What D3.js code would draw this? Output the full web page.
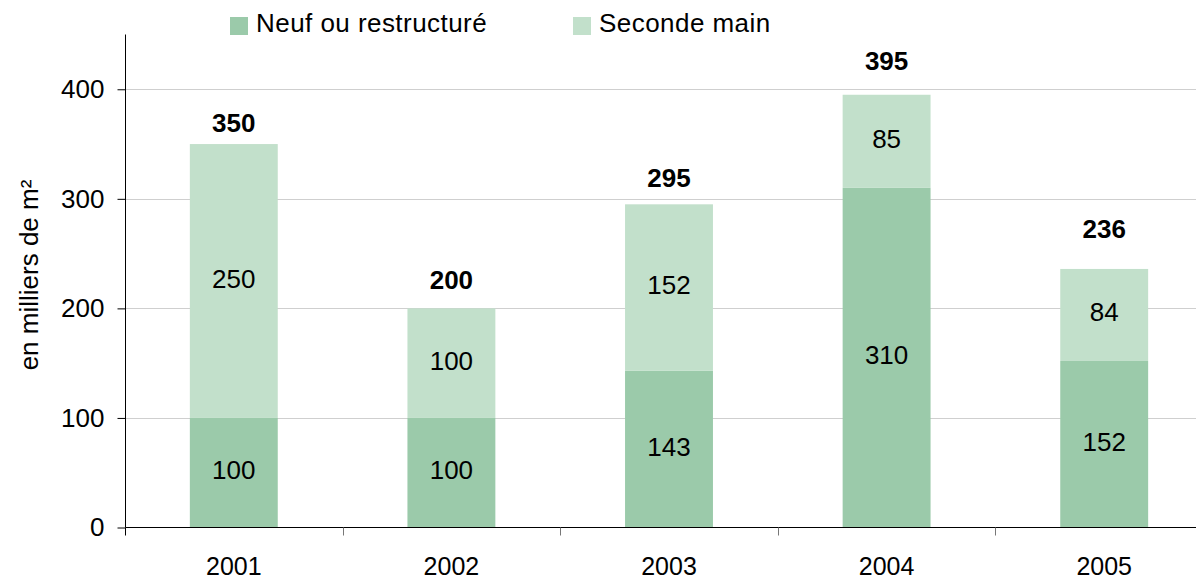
<!DOCTYPE html>
<html>
<head>
<meta charset="utf-8">
<script src="https://cdn.jsdelivr.net/npm/d3@7"></script>
<style>
  html, body { margin: 0; padding: 0; background: #fff; }
  svg { display: block; font-family: "Liberation Sans", Arial, sans-serif; }
</style>
</head>
<body>
<svg id="chart" width="1196" height="579"></svg>
<script>
const years = ["2001", "2002", "2003", "2004", "2005"];
const neuf = [100, 100, 143, 310, 152];
const seconde = [250, 100, 152, 85, 84];
const totals = [350, 200, 295, 395, 236];
const yTicks = [0, 100, 200, 300, 400];
const seriesNames = ["Neuf ou restructuré", "Seconde main"];
const colors = ["#9bcaaa", "#c2e0cb"];

const svg = d3.select("#chart");
const W = 1196;
const x0 = 125.5, yBottom = 527.5, yTop = 34.5;
// layout: pixel gap between bar top and the total label baseline (manually placed in the original)
const totalLabelGap = [12, 19, 17, 25, 31];

const x = d3.scaleBand().domain(years).range([125, 1213]).paddingInner(0.596).paddingOuter(0.298);
const y = d3.scaleLinear().domain([0, 450]).range([yBottom, yTop]);

// gridlines
svg.append("g").selectAll("line").data(yTicks.filter(d => d > 0)).join("line")
  .attr("x1", x0).attr("x2", W)
  .attr("y1", d => Math.round(y(d)) + 0.5).attr("y2", d => Math.round(y(d)) + 0.5)
  .attr("stroke", "#cfcfcf").attr("stroke-width", 1.2);

// stacked data
const rows = years.map((yr, i) => ({ year: yr, neuf: neuf[i], seconde: seconde[i], total: totals[i], idx: i }));
const stack = d3.stack().keys(["neuf", "seconde"])(rows);

const layers = svg.append("g").selectAll("g").data(stack).join("g")
  .attr("fill", (d, i) => colors[i]);
layers.selectAll("rect").data(d => d).join("rect")
  .attr("x", d => x(d.data.year))
  .attr("width", x.bandwidth())
  .attr("y", d => y(d[1]))
  .attr("height", d => y(d[0]) - y(d[1]));

// inner labels
const labG = svg.append("g").attr("font-size", 26).attr("fill", "#000").attr("text-anchor", "middle");
stack.forEach(layer => {
  labG.selectAll(null).data(layer).join("text")
    .attr("x", d => x(d.data.year) + x.bandwidth() / 2)
    .attr("y", d => (y(d[0]) + y(d[1])) / 2)
    .attr("dy", "0.25em")
    .text(d => d[1] - d[0]);
});

// totals
svg.append("g").selectAll("text").data(rows).join("text")
  .attr("x", d => x(d.year) + x.bandwidth() / 2)
  .attr("y", d => y(d.total) - totalLabelGap[d.idx])
  .attr("text-anchor", "middle")
  .attr("font-size", 26).attr("font-weight", "bold")
  .text(d => d.total);

// y axis
const yAxis = d3.axisLeft(y).tickValues(yTicks).tickSize(8).tickPadding(13);
const gy = svg.append("g").attr("transform", `translate(${x0},0)`).call(yAxis);
gy.select(".domain").remove();
gy.selectAll(".tick line").attr("stroke", "#000");
gy.selectAll(".tick text").attr("font-size", 26).attr("font-family", "Liberation Sans, Arial, sans-serif").attr("fill", "#000").attr("dy", "0.32em");
svg.append("line").attr("x1", x0).attr("x2", x0).attr("y1", yTop).attr("y2", yBottom).attr("stroke", "#000");

// x axis
svg.append("line").attr("x1", x0).attr("x2", W).attr("y1", yBottom).attr("y2", yBottom).attr("stroke", "#000");
const bounds = years.map(yr => x(yr) - x.step() * x.paddingInner() / 2).concat([x(years[years.length - 1]) + x.bandwidth() + x.step() * x.paddingInner() / 2]);
svg.append("g").selectAll("line").data(bounds.filter(b => b < W)).join("line")
  .attr("x1", d => Math.round(d) + 0.5).attr("x2", d => Math.round(d) + 0.5)
  .attr("y1", yBottom).attr("y2", yBottom + 8)
  .attr("stroke", (d, i) => i === 0 ? "#000" : "#777");
svg.append("g").selectAll("text").data(years).join("text")
  .attr("x", d => x(d) + x.bandwidth() / 2)
  .attr("y", 575)
  .attr("text-anchor", "middle").attr("font-size", 25)
  .text(d => d);

// y title
svg.append("text")
  .attr("transform", "translate(38,275) rotate(-90)")
  .attr("text-anchor", "middle").attr("font-size", 26)
  .text("en milliers de m²");

// legend
const legX = [230, 573];
const leg = svg.append("g").selectAll("g").data(seriesNames).join("g")
  .attr("transform", (d, i) => `translate(${legX[i]},0)`);
leg.append("rect").attr("x", 0).attr("y", 17).attr("width", 18).attr("height", 18).attr("fill", (d, i) => colors[i]);
leg.append("text").attr("x", 26).attr("y", 32).attr("font-size", 26).attr("letter-spacing", 0.45).text(d => d);
</script>
</body>
</html>
